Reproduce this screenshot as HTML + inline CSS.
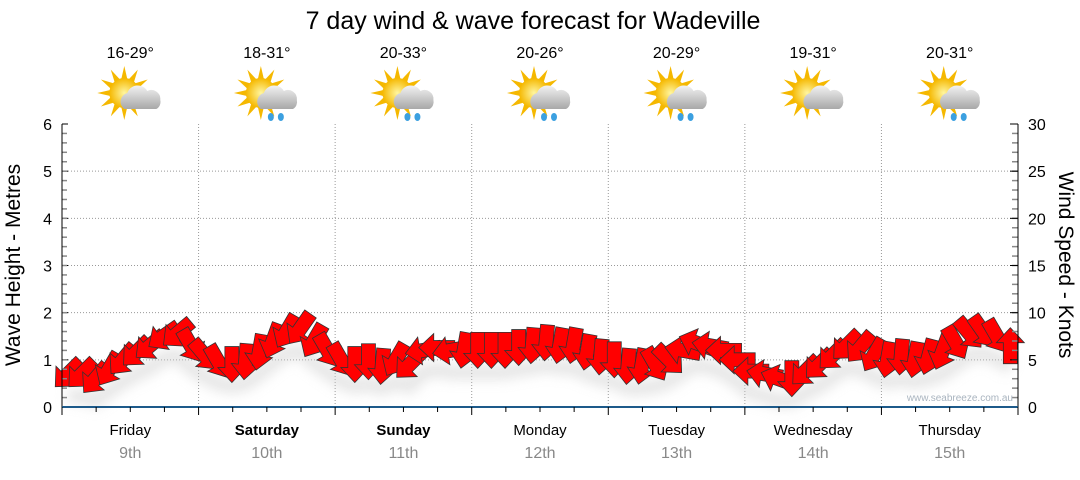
<!DOCTYPE html>
<html><head><meta charset="utf-8"><style>
body{margin:0;background:#fff;width:1080px;height:475px;overflow:hidden;font-family:"Liberation Sans",sans-serif}
</style></head><body>
<svg id="chart" width="1080" height="475" xmlns="http://www.w3.org/2000/svg" font-family="Liberation Sans, DejaVu Sans, sans-serif">
<defs>
<radialGradient id="sun" cx="50%" cy="50%" r="50%"><stop offset="0" stop-color="#fff6a0"/><stop offset="1" stop-color="#f5b800"/></radialGradient>
<linearGradient id="cloud" x1="0" y1="0" x2="0" y2="1"><stop offset="0" stop-color="#f2f2f2"/><stop offset="1" stop-color="#a8a8a8"/></linearGradient>
<filter id="sh" x="-50%" y="-50%" width="200%" height="200%"><feGaussianBlur stdDeviation="6"/></filter>
</defs>
<text x="533" y="29" font-size="25" text-anchor="middle" fill="#000">7 day wind &amp; wave forecast for Wadeville</text>
<g id="grid"></g><g id="icons"></g><g id="arrows"></g><g id="axes"></g>
<text x="1013" y="401" font-size="10" fill="#a9b4bf" text-anchor="end">www.seabreeze.com.au</text>
<text transform="translate(20,265) rotate(-90)" font-size="21" text-anchor="middle">Wave Height - Metres</text>
<text transform="translate(1059,265) rotate(90)" font-size="21" text-anchor="middle">Wind Speed - Knots</text>
</svg>
<script>
const days=["Friday","Saturday","Sunday","Monday","Tuesday","Wednesday","Thursday"];
const dates=["9th","10th","11th","12th","13th","14th","15th"];
const boldDays=[false,true,true,false,false,false,false];
const temps=["16-29°","18-31°","20-33°","20-26°","20-29°","19-31°","20-31°"];
const rainy=[false,true,true,true,true,false,true];
const waveTicks=[0,1,2,3,4,5,6];
const windTicks=[0,5,10,15,20,25,30];
const windSpeed=[3.5,3.5,3,4,5,5.8,6.5,7.5,7.8,6.5,
 5.5,4.8,4.5,4.8,5.8,7,8,8.3,7,6,
 5,4.5,4.8,4.3,5,4.5,6,6.3,6,6,
 6,6,6,6.3,6.5,6.8,6.5,6.5,5.8,5.3,
 5,4.3,4.3,4.5,5,6,6.8,6.5,6,5,
 3.8,3.5,3,3,3.8,4.5,5.5,6.5,6.3,5.5,
 5,5.3,5,5.3,5.8,6.8,7.8,8,7.5,6.5];
const windDir=[135,135,130,120,130,135,140,145,140,60,
 50,60,90,95,100,110,120,125,120,60,
 60,90,90,95,120,135,170,180,170,100,
 90,90,90,90,95,95,100,100,100,95,
 90,95,100,60,45,190,200,190,180,180,
 180,190,200,90,135,135,135,135,130,120,
 100,95,100,105,110,60,50,55,60,270];
const NS="http://www.w3.org/2000/svg";
const X0=62,X1=1018,Y0=407,Y1=124;
const dayW=(X1-X0)/7;
const xs=i=>X0+i*(X1-X0)/windSpeed.length+6;
const yWave=v=>Y0-(v/6)*(Y0-Y1);
const yWind=v=>Y0-(v/30)*(Y0-Y1);
function mk(tag,attrs,parent,txt){const e=document.createElementNS(NS,tag);for(const k in attrs)e.setAttribute(k,attrs[k]);if(txt!==undefined)e.textContent=txt;parent.appendChild(e);return e;}
const grid=document.getElementById('grid'),axes=document.getElementById('axes'),icons=document.getElementById('icons'),arrows=document.getElementById('arrows');
waveTicks.forEach(t=>{const y=yWave(t);
 if(t>0&&t<6){const l=mk('line',{x1:X0,x2:X1,y1:y,y2:y,stroke:'#999','stroke-dasharray':'1,2'},grid);
 
 }
 const tx=mk('text',{x:X0-10,y:y+6,'font-size':16,'text-anchor':'end'},axes,String(t));
 
 
 mk('line',{x1:X0,x2:X0+6,y1:y,y2:y,stroke:'#000'},axes);});
for(let i=1;i<30;i++){const y=yWave(i/5);mk('line',{x1:X0,x2:X0+5,y1:y,y2:y,stroke:'#888','stroke-width':1.5},axes);mk('line',{x1:X1-6,x2:X1,y1:y,y2:y,stroke:'#888','stroke-width':1.5},axes);}
windTicks.forEach(t=>{const y=yWind(t);
 const tx=mk('text',{x:X1+10,y:y+6,'font-size':16},axes,String(t));
 
 
 mk('line',{x1:X1-8,x2:X1,y1:y,y2:y,stroke:'#000'},axes);});
mk('line',{x1:X0,x2:X0,y1:Y1,y2:Y0+8,stroke:'#000'},axes);
mk('line',{x1:X1,x2:X1,y1:Y1,y2:Y0,stroke:'#000'},axes);
mk('line',{x1:X0,x2:X1,y1:Y0,y2:Y0,stroke:'#1d5a8a','stroke-width':2},axes);
for(let q=0;q<=28;q++){const x=X0+q*dayW/4;mk('line',{x1:x,x2:x,y1:Y0,y2:Y0+(q%4==0?8:5),stroke:'#000'},axes);}
days.forEach((d,i)=>{const cx=X0+dayW*(i+0.5);
 if(i>0){const l=mk('line',{x1:X0+dayW*i,x2:X0+dayW*i,y1:Y1,y2:Y0,stroke:'#999','stroke-dasharray':'1,2'},grid);
 
 }
 const a=mk('text',{x:cx,y:435,'font-size':15,'text-anchor':'middle','font-weight':boldDays[i]?'bold':'normal'},axes,d);
 
 
 const b=mk('text',{x:cx,y:458,'font-size':16,'text-anchor':'middle',fill:'#888'},axes,dates[i]);
 
 
 const t=mk('text',{x:cx,y:58,'font-size':16,'text-anchor':'middle'},icons,temps[i]);
 
 
 const g=mk('g',{transform:`translate(${cx-6},93)`},icons);
 
 
 for(let r=0;r<12;r++){const an=r*30;mk('polygon',{points:'-3,-14 0,-27 3,-14',fill:'#f5b800',transform:`rotate(${an})`},g);}
 mk('circle',{cx:0,cy:0,r:15,fill:'url(#sun)'},g);
 mk('path',{d:'M0,16 a9,9 0 0 1 3,-16 a11,11 0 0 1 20,-2 a9,9 0 0 1 13,9 a8,8 0 0 1 -4,9 z',fill:'url(#cloud)'},g);
 if(rainy[i]){[[10,24],[20,24]].forEach(p=>mk('ellipse',{cx:p[0],cy:p[1],rx:3,ry:4,fill:'#3ca0e0'},g));}
});
const sp=windSpeed.map((v,i)=>`${xs(i)},${yWind(v)+22}`).join(' ');
mk('polyline',{points:sp,fill:'none',stroke:'#ccc','stroke-width':14,filter:'url(#sh)',opacity:0.5},arrows);
windSpeed.forEach((v,i)=>{const x=xs(i),y=yWind(v);
 const p=mk('polygon',{points:'-18,-7 3,-7 3,-14 18,0 3,14 3,7 -18,7',fill:'#ff0000',stroke:'#333','stroke-width':0.8,transform:`translate(${x},${y}) rotate(${windDir[i]})`},arrows);
 
 
});
</script>
</body></html>
